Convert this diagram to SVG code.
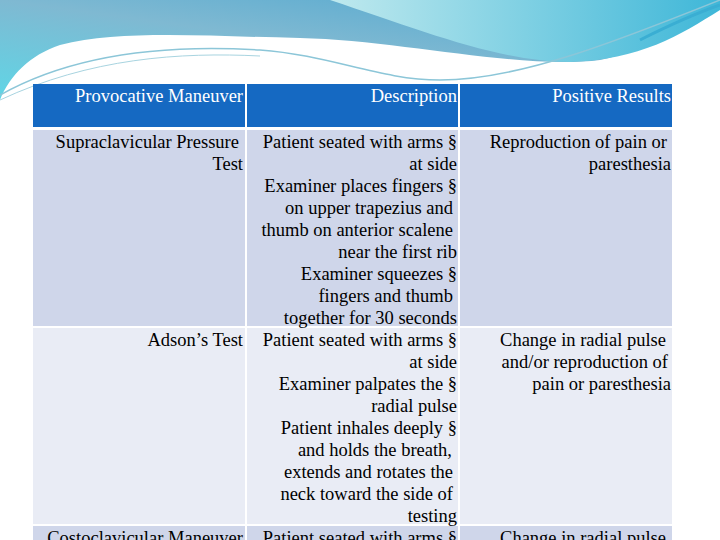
<svg xmlns="http://www.w3.org/2000/svg" width="720" height="540" viewBox="0 0 720 540">
<defs>
<linearGradient id="g1" x1="0" y1="1" x2="1" y2="0"><stop offset="0" stop-color="#5fd6e6"/><stop offset="0.5" stop-color="#7fb9d2"/><stop offset="1" stop-color="#4aa5cf"/></linearGradient>
<linearGradient id="g2" x1="0" y1="0" x2="1" y2="0"><stop offset="0" stop-color="#bfe9ee"/><stop offset="1" stop-color="#3fb7d8"/></linearGradient>
<style>
text{font-family:"Liberation Serif","Times New Roman",serif;font-size:18.5px;fill:#000;text-anchor:end}
.h{fill:#fff}
.hd{fill:#1569c2}
.r1{fill:#cfd6ea}
.r2{fill:#e9ecf5}
</style>
</defs>
<g id="decor">
<path d="M0 0 H720 V0 C690 20 650 50 600 60 C520 70 400 40 300 38 C200 36 120 30 60 45 C30 55 10 75 0 100 Z" fill="url(#g1)"/>
<path d="M330 0 H720 V10 C680 35 640 60 570 62 C500 62 420 30 330 0 Z" fill="url(#g2)"/>
<path d="M0 95 C80 50 180 45 260 50 C330 55 380 80 440 80 C520 80 620 40 720 0" fill="none" stroke="#8cc6d8" stroke-width="1.5"/>
<path d="M0 100 C90 58 180 52 260 56" fill="none" stroke="#a8d4e0" stroke-width="1"/>
<path d="M640 40 C670 25 700 12 720 5" fill="none" stroke="#3aaed3" stroke-width="3"/>
</g>
<g id="header">
<rect class="hd" x="33" y="84" width="212" height="43"/>
<rect class="hd" x="247" y="84" width="211" height="43"/>
<rect class="hd" x="460" y="84" width="212" height="43"/>
<text class="h" x="243" y="102">Provocative Maneuver</text>
<text class="h" x="457" y="102">Description</text>
<text class="h" x="671" y="102">Positive Results</text>
</g>
<g id="row1">
<rect class="r1" x="33" y="130" width="212" height="196"/>
<rect class="r1" x="247" y="130" width="211" height="196"/>
<rect class="r1" x="460" y="130" width="212" height="196"/>
<text x="239" y="148">Supraclavicular Pressure</text>
<text x="243" y="170">Test</text>
<text><tspan x="457" y="148">Patient seated with arms §</tspan><tspan x="457" y="170">at side</tspan><tspan x="457" y="192">Examiner places fingers §</tspan><tspan x="453" y="214">on upper trapezius and</tspan><tspan x="453" y="236">thumb on anterior scalene</tspan><tspan x="457" y="258">near the first rib</tspan><tspan x="457" y="280">Examiner squeezes §</tspan><tspan x="453" y="302">fingers and thumb</tspan><tspan x="457" y="324">together for 30 seconds</tspan></text>
<text><tspan x="667" y="148">Reproduction of pain or</tspan><tspan x="671" y="170">paresthesia</tspan></text>
</g>
<g id="row2">
<rect class="r2" x="33" y="328" width="212" height="196"/>
<rect class="r2" x="247" y="328" width="211" height="196"/>
<rect class="r2" x="460" y="328" width="212" height="196"/>
<text x="243" y="346">Adson’s Test</text>
<text><tspan x="457" y="346">Patient seated with arms §</tspan><tspan x="457" y="368">at side</tspan><tspan x="457" y="390">Examiner palpates the §</tspan><tspan x="457" y="412">radial pulse</tspan><tspan x="457" y="434">Patient inhales deeply §</tspan><tspan x="452" y="456">and holds the breath,</tspan><tspan x="453" y="478">extends and rotates the</tspan><tspan x="453" y="500">neck toward the side of</tspan><tspan x="457" y="522">testing</tspan></text>
<text><tspan x="666" y="346">Change in radial pulse</tspan><tspan x="668" y="368">and/or reproduction of</tspan><tspan x="671" y="390">pain or paresthesia</tspan></text>
</g>
<g id="row3">
<rect class="r1" x="33" y="526" width="212" height="20"/>
<rect class="r1" x="247" y="526" width="211" height="20"/>
<rect class="r1" x="460" y="526" width="212" height="20"/>
<text x="243" y="544">Costoclavicular Maneuver</text>
<text x="457" y="544">Patient seated with arms §</text>
<text x="666" y="544">Change in radial pulse</text>
</g>
<g id="connectors"/>
</svg>
